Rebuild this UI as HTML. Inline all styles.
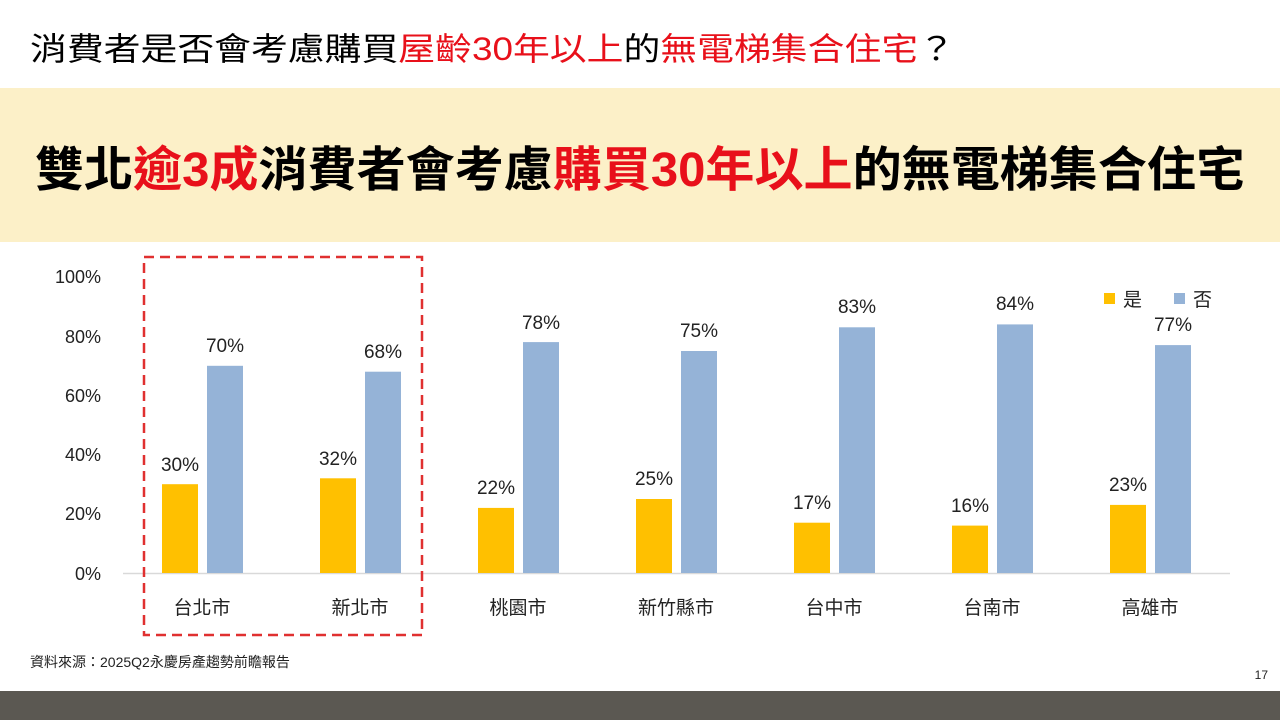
<!DOCTYPE html>
<html><head><meta charset="utf-8"><style>
body{margin:0;width:1280px;height:720px;overflow:hidden;background:#fff;font-family:"Liberation Sans","Noto Sans CJK TC",sans-serif}
</style></head><body>
<svg width="1280" height="720" xmlns="http://www.w3.org/2000/svg" style="font-family:'Liberation Sans','Noto Sans CJK TC',sans-serif">
<text x="30" y="60" font-size="32" textLength="925" lengthAdjust="spacingAndGlyphs" fill="#000">消費者是否會考慮購買<tspan fill="#e8101a">屋齡30年以上</tspan>的<tspan fill="#e8101a">無電梯集合住宅</tspan>？</text>
<rect x="0" y="88" width="1280" height="154" fill="#fcf0c8"/>
<text x="35" y="186" font-size="48" font-weight="bold" textLength="1210" lengthAdjust="spacingAndGlyphs" fill="#000">雙北<tspan fill="#e8101a">逾3成</tspan>消費者會考慮<tspan fill="#e8101a">購買30年以上</tspan>的無電梯集合住宅</text>
<g font-size="18" fill="#222" text-anchor="end">
<text x="101" y="283">100%</text><text x="101" y="343">80%</text><text x="101" y="402">60%</text><text x="101" y="461">40%</text><text x="101" y="520">20%</text><text x="101" y="580">0%</text>
</g>
<line x1="123" y1="573.5" x2="1230" y2="573.5" stroke="#d9d9d9" stroke-width="1.5"/>
<g id="bars" font-size="19" fill="#222" text-anchor="middle">
<!-- centers 202,360,518,676,834,992,1150 -->
<rect x="162" y="484.2" width="36" height="88.8" fill="#ffc000"/><rect x="207" y="365.8" width="36" height="207.2" fill="#95b3d7"/>
<text x="180" y="471">30%</text><text x="225" y="352">70%</text>
<rect x="320" y="478.3" width="36" height="94.7" fill="#ffc000"/><rect x="365" y="371.7" width="36" height="201.3" fill="#95b3d7"/>
<text x="338" y="465">32%</text><text x="383" y="358">68%</text>
<rect x="478" y="507.9" width="36" height="65.1" fill="#ffc000"/><rect x="523" y="342.1" width="36" height="230.9" fill="#95b3d7"/>
<text x="496" y="494">22%</text><text x="541" y="329">78%</text>
<rect x="636" y="499" width="36" height="74" fill="#ffc000"/><rect x="681" y="351" width="36" height="222" fill="#95b3d7"/>
<text x="654" y="485">25%</text><text x="699" y="337">75%</text>
<rect x="794" y="522.7" width="36" height="50.3" fill="#ffc000"/><rect x="839" y="327.3" width="36" height="245.7" fill="#95b3d7"/>
<text x="812" y="509">17%</text><text x="857" y="313">83%</text>
<rect x="952" y="525.6" width="36" height="47.4" fill="#ffc000"/><rect x="997" y="324.4" width="36" height="248.6" fill="#95b3d7"/>
<text x="970" y="512">16%</text><text x="1015" y="310">84%</text>
<rect x="1110" y="504.9" width="36" height="68.1" fill="#ffc000"/><rect x="1155" y="345.1" width="36" height="227.9" fill="#95b3d7"/>
<text x="1128" y="491">23%</text><text x="1173" y="331">77%</text>
</g>
<g font-size="19" fill="#222" text-anchor="middle">
<text x="202" y="614">台北市</text><text x="360" y="614">新北市</text><text x="518" y="614">桃園市</text><text x="676" y="614">新竹縣市</text><text x="834" y="614">台中市</text><text x="992" y="614">台南市</text><text x="1150" y="614">高雄市</text>
</g>
<rect x="1104" y="293" width="11" height="11" fill="#ffc000"/><text x="1123" y="306" font-size="19" fill="#222">是</text>
<rect x="1174" y="293" width="11" height="11" fill="#95b3d7"/><text x="1193" y="306" font-size="19" fill="#222">否</text>
<rect x="144" y="257" width="278" height="378" fill="none" stroke="#e03030" stroke-width="2.5" stroke-dasharray="10,6"/>
<text x="30" y="667" font-size="14" fill="#222">資料來源：2025Q2永慶房產趨勢前瞻報告</text>
<text x="1268" y="679" font-size="12" fill="#222" text-anchor="end">17</text>
<rect x="0" y="691" width="1280" height="29" fill="#5b5852"/>
</svg>
</body></html>
